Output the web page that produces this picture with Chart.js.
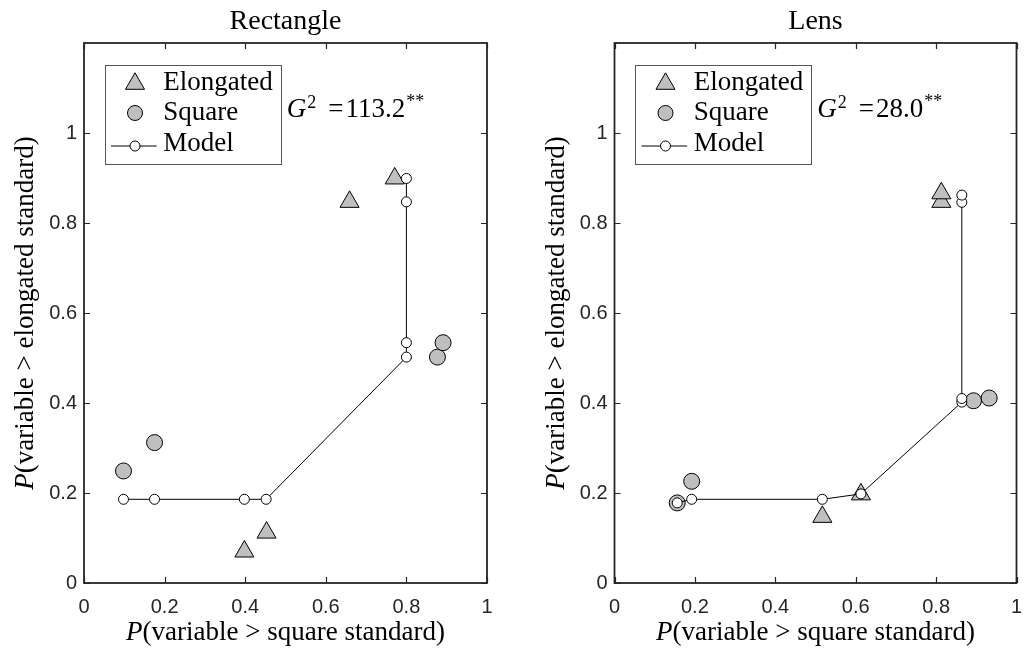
<!DOCTYPE html>
<html><head><meta charset="utf-8">
<script src="https://cdn.jsdelivr.net/npm/chart.js@4.4.1/dist/chart.umd.min.js"></script>
<style>
html,body{margin:0;padding:0;background:#fff;}
#wrap{position:relative;width:1025px;height:657px;overflow:hidden;background:#fff}
.panel{position:absolute;top:0;height:657px;width:512px}
canvas{display:block}
</style></head><body>
<div id="wrap">
<div class="panel" style="left:0"><canvas id="c1" width="512" height="657"></canvas></div>
<div class="panel" style="left:530px"><canvas id="c2" width="512" height="657"></canvas></div>
</div>
<script>
// ---- texts ----
const panelTitles = ['Rectangle', 'Lens'];
const legendLabels = ['Elongated', 'Square', 'Model'];
const g2Values = ['113.2', '28.0'];
const xLabelRest = '(variable > square standard)';
const yLabelRest = '(variable > elongated standard)';
const xTickValues = [0, 0.2, 0.4, 0.6, 0.8, 1];
const xTickLabels = ['0', '0.2', '0.4', '0.6', '0.8', '1'];
const yTickValues = [0, 0.2, 0.4, 0.6, 0.8, 1];
const yTickLabels = ['0', '0.2', '0.4', '0.6', '0.8', '1'];

// ---- Rectangle ----
const rectElongX = [0.398, 0.453, 0.659, 0.771];
const rectElongY = [0.070, 0.112, 0.847, 0.899];
const rectSquareX = [0.098, 0.175, 0.877, 0.891];
const rectSquareY = [0.249, 0.312, 0.502, 0.534];
const rectModelX = [0.098, 0.175, 0.398, 0.452, 0.800, 0.800, 0.800, 0.800];
const rectModelY = [0.186, 0.186, 0.186, 0.186, 0.502, 0.534, 0.847, 0.899];

// ---- Lens ----
const lensElongX = [0.517, 0.613, 0.813, 0.813];
const lensElongY = [0.147, 0.197, 0.847, 0.866];
const lensSquareX = [0.156, 0.192, 0.893, 0.932];
const lensSquareY = [0.178, 0.226, 0.405, 0.411];
const lensModelX = [0.156, 0.192, 0.517, 0.613, 0.864, 0.864, 0.864, 0.864];
const lensModelY = [0.178, 0.186, 0.186, 0.198, 0.402, 0.410, 0.846, 0.862];

const SERIF = "'Liberation Serif', 'Times New Roman', serif";
const SANS = "'Liberation Sans', Arial, sans-serif";
const AXIS = '#262626';
const GRAYFILL = '#bfbfbf';

function triPath(ctx, cx, cy, r) {
  ctx.beginPath();
  ctx.moveTo(cx, cy - r);
  ctx.lineTo(cx + 0.8660254 * r, cy + 0.5 * r);
  ctx.lineTo(cx - 0.8660254 * r, cy + 0.5 * r);
  ctx.closePath();
}
function drawPieces(ctx, pieces, x, y) {
  let cx = x;
  for (const p of pieces) {
    ctx.font = p.font;
    cx += (p.dx || 0);
    ctx.fillText(p.t, cx, y - (p.dy || 0));
    cx += ctx.measureText(p.t).width;
  }
  return cx - x;
}
function piecesWidth(ctx, pieces) {
  let w = 0;
  for (const p of pieces) { ctx.font = p.font; w += (p.dx || 0) + ctx.measureText(p.t).width; }
  return w;
}

const decor = {
  id: 'decor',
  afterDraw(chart, args, o) {
    const {ctx, chartArea: a, scales: {x, y}} = chart;
    ctx.save();
    // inward ticks
    ctx.strokeStyle = AXIS;
    ctx.lineWidth = 1.2;
    ctx.beginPath();
    const TL = 6;
    x.ticks.forEach(t => {
      const px = Math.round(x.getPixelForValue(t.value)) + 0.5;
      ctx.moveTo(px, a.bottom); ctx.lineTo(px, a.bottom - TL);
      ctx.moveTo(px, a.top); ctx.lineTo(px, a.top + TL);
    });
    y.ticks.forEach(t => {
      const py = Math.round(y.getPixelForValue(t.value)) + 0.5;
      ctx.moveTo(a.left, py); ctx.lineTo(a.left + TL, py);
      ctx.moveTo(a.right, py); ctx.lineTo(a.right - TL, py);
    });
    ctx.stroke();
    // box
    ctx.lineWidth = 1.8;
    ctx.strokeRect(a.left, a.top, a.right - a.left, a.bottom - a.top);

    ctx.fillStyle = '#000';
    ctx.textBaseline = 'alphabetic';
    ctx.textAlign = 'left';
    // x label
    const xp = [{t: 'P', font: 'italic 27px ' + SERIF}, {t: xLabelRest, font: 'normal 27px ' + SERIF}];
    const xw = piecesWidth(ctx, xp);
    drawPieces(ctx, xp, (a.left + a.right) / 2 - xw / 2, 640);
    // y label
    const yp = [{t: 'P', font: 'italic 27px ' + SERIF}, {t: yLabelRest, font: 'normal 27px ' + SERIF}];
    const yw = piecesWidth(ctx, yp);
    ctx.save();
    ctx.translate(a.left - 51, (a.top + a.bottom) / 2);
    ctx.rotate(-Math.PI / 2);
    drawPieces(ctx, yp, -yw / 2, 0);
    ctx.restore();

    // G^2 annotation
    const gp = [
      {t: 'G', font: 'italic 27px ' + SERIF},
      {t: '2', font: 'normal 18px ' + SERIF, dy: 9, dx: 1},
      {t: '=', font: 'normal 27px ' + SERIF, dx: 12},
      {t: o.g2, font: 'normal 27px ' + SERIF, dx: 2},
      {t: '**', font: 'normal 18px ' + SERIF, dy: 10, dx: 1}
    ];
    drawPieces(ctx, gp, a.left + 202.7, a.top + 74.3);

    // legend
    const lx = a.left + 20.5, ly = a.top + 21.5, lw = 175.5, lh = 98.5;
    ctx.fillStyle = '#fff';
    ctx.fillRect(lx, ly, lw, lh);
    ctx.strokeStyle = '#555555';
    ctx.lineWidth = 1;
    ctx.strokeRect(Math.round(lx) + 0.5, Math.round(ly) + 0.5, Math.round(lw), Math.round(lh));
    const mx = a.left + 51;
    ctx.fillStyle = GRAYFILL; ctx.strokeStyle = '#000'; ctx.lineWidth = 1;
    triPath(ctx, mx, a.top + 40.8, 11); ctx.fill(); ctx.stroke();
    ctx.beginPath(); ctx.arc(mx, a.top + 70, 7.5, 0, Math.PI * 2); ctx.fill(); ctx.stroke();
    ctx.beginPath(); ctx.moveTo(a.left + 27, a.top + 103); ctx.lineTo(a.left + 72.7, a.top + 103); ctx.stroke();
    ctx.fillStyle = '#fff';
    ctx.beginPath(); ctx.arc(mx, a.top + 103, 5, 0, Math.PI * 2); ctx.fill(); ctx.stroke();
    ctx.fillStyle = '#000';
    ctx.font = 'normal 27px ' + SERIF;
    const tx = a.left + 79.3;
    ctx.fillText(legendLabels[0], tx, a.top + 46.5);
    ctx.fillText(legendLabels[1], tx, a.top + 77);
    ctx.fillText(legendLabels[2], tx, a.top + 107.7);
    ctx.restore();
  }
};

function pts(xs, ys) { return xs.map((v, i) => ({x: v, y: ys[i]})); }
function labelFor(values, labels) {
  return v => { const i = values.findIndex(t => Math.abs(t - v) < 1e-9); return i >= 0 ? labels[i] : ''; };
}

function makeChart(id, idx, ex, ey, sx, sy, mX, mY, yAxisWidth, padRight) {
  return new Chart(document.getElementById(id), {
    type: 'scatter',
    data: {
      datasets: [
        {label: legendLabels[2], data: pts(mX, mY), showLine: true, borderColor: '#000', borderWidth: 1,
         pointRadius: 5, pointBackgroundColor: '#fff', pointBorderColor: '#000', pointBorderWidth: 1,
         pointStyle: 'circle', order: 0},
        {label: legendLabels[1], data: pts(sx, sy), pointStyle: 'circle', pointRadius: 8,
         pointBackgroundColor: GRAYFILL, pointBorderColor: '#000', pointBorderWidth: 1, order: 1},
        {label: legendLabels[0], data: pts(ex, ey), pointStyle: 'triangle', pointRadius: 11,
         pointBackgroundColor: GRAYFILL, pointBorderColor: '#000', pointBorderWidth: 1, order: 2}
      ]
    },
    options: {
      responsive: false, animation: false, devicePixelRatio: 1,
      events: [],
      layout: {padding: {left: 0, right: padRight, top: 0, bottom: 0}},
      plugins: {
        legend: {display: false},
        tooltip: {enabled: false},
        title: {display: true, text: panelTitles[idx], fullSize: false, color: '#000',
                font: {family: SERIF, size: 28, weight: 'normal'}, padding: {top: 5, bottom: 4.4}},
        decor: {g2: g2Values[idx]}
      },
      scales: {
        x: {type: 'linear', min: 0, max: 1,
            afterBuildTicks: s => { s.ticks = xTickValues.map(v => ({value: v})); },
            afterFit: s => { s.height = 74; },
            grid: {display: false, drawTicks: false}, border: {display: false},
            ticks: {padding: 12, color: AXIS, font: {family: SANS, size: 20}, maxRotation: 0, autoSkip: false,
                    callback: labelFor(xTickValues, xTickLabels)}},
        y: {type: 'linear', min: 0, max: 1.2,
            afterBuildTicks: s => { s.ticks = yTickValues.map(v => ({value: v})); },
            afterFit: s => { s.width = yAxisWidth; },
            grid: {display: false, drawTicks: false}, border: {display: false},
            ticks: {padding: 7, color: AXIS, font: {family: SANS, size: 20}, autoSkip: false,
                    callback: labelFor(yTickValues, yTickLabels)}}
      }
    },
    plugins: [decor]
  });
}

makeChart('c1', 0, rectElongX, rectElongY, rectSquareX, rectSquareY, rectModelX, rectModelY, 84, 25);
makeChart('c2', 1, lensElongX, lensElongY, lensSquareX, lensSquareY, lensModelX, lensModelY, 84.5, 25.5);
</script>
</body></html>
